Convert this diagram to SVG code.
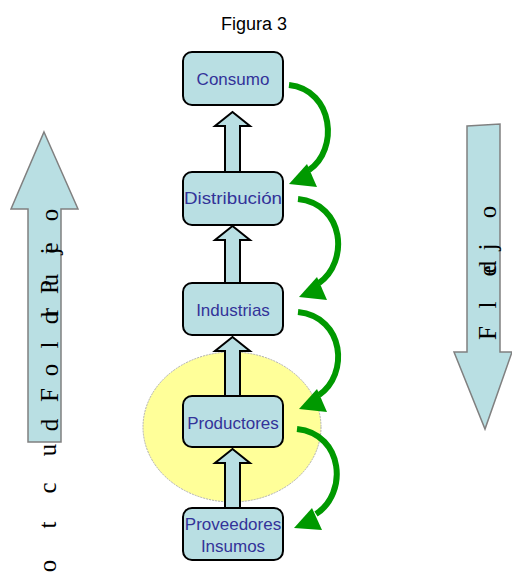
<svg xmlns="http://www.w3.org/2000/svg" width="512" height="573" viewBox="0 0 512 573">
<style>
.box{fill:#b9dfe3;stroke:#000;stroke-width:2}
.lbl{font-family:"Liberation Sans",Arial,sans-serif;font-size:17px;fill:#333399;text-anchor:middle}
.up{fill:#b9dfe3;stroke:#000;stroke-width:2;stroke-linejoin:miter}
.big{fill:#b9dfe3;stroke:#808080;stroke-width:1.5}
.g{fill:none;stroke:#009900;stroke-width:6}
.gh{fill:#009900}
.gl text{font-family:"Liberation Serif","Times New Roman",serif;font-size:20px;fill:#000;text-anchor:middle}
.title{font-family:"Liberation Sans",Arial,sans-serif;font-size:18px;fill:#000;text-anchor:middle}
</style>
<text class="title" x="254" y="30">Figura 3</text>
<ellipse id="highlight" cx="232" cy="427" rx="89" ry="75" fill="#ffff99" stroke="#b0b0b0" stroke-width="1" stroke-dasharray="2 1"/>
<g id="side-left">
<polygon class="big" points="44,132 78,209 61,209 61,442 28,442 28,209 11,209"/>
<g class="gl">
<text transform="translate(58,215) rotate(-90) scale(1.25)">o</text>
<text transform="translate(58,248) rotate(-90) scale(1.25)">e</text>
<text transform="translate(58,251) rotate(-90) scale(1.25)">j</text>
<text transform="translate(58,280) rotate(-90) scale(1.25)">u</text>
<text transform="translate(58,287) rotate(-90) scale(1.25)">P</text>
<text transform="translate(58,312) rotate(-90) scale(1.25)">r</text>
<text transform="translate(58,318) rotate(-90) scale(1.25)">d</text>
<text transform="translate(58,345) rotate(-90) scale(1.25)">l</text>
<text transform="translate(58,370) rotate(-90) scale(1.25)">o</text>
<text transform="translate(58,395) rotate(-90) scale(1.25)">F</text>
<text transform="translate(58,425) rotate(-90) scale(1.25)">d</text>
<text transform="translate(56,450) rotate(-90) scale(1.25)">u</text>
<text transform="translate(56,488) rotate(-90) scale(1.25)">c</text>
<text transform="translate(56,525) rotate(-90) scale(1.25)">t</text>
<text transform="translate(56,566) rotate(-90) scale(1.25)">o</text>
</g>
</g>
<g id="side-right">
<polygon class="big" points="467,126 500,124 500,352 512,352 485,429 454,352 467,352"/>
<g class="gl">
<text transform="translate(496,212) rotate(-90) scale(1.25)">o</text>
<text transform="translate(496,247) rotate(-90) scale(1.25)">j</text>
<text transform="translate(496,267) rotate(-90) scale(1.25)">d</text>
<text transform="translate(496,271) rotate(-90) scale(1.25)">e</text>
<text transform="translate(496,305) rotate(-90) scale(1.25)">l</text>
<text transform="translate(496,333) rotate(-90) scale(1.25)">F</text>
</g>
</g>
<g id="connectors">
<polygon class="up" points="232.5,112 250,126 240,126 240,172 225,172 225,126 215,126"/>
<polygon class="up" points="232.5,226 250,240 240,240 240,283 225,283 225,240 215,240"/>
<polygon class="up" points="232.5,337 250,351 240,351 240,396 225,396 225,351 215,351"/>
<polygon class="up" points="232.5,449 250,463 240,463 240,508 225,508 225,463 215,463"/>
<path class="g" d="M289,85 C334,90 339,150 309,170"/>
<polygon class="gh" points="289,184 307,164 317,187"/>
<path class="g" d="M298,199 C345,204 349,262 319,283"/>
<polygon class="gh" points="299,297 317,277 327,300"/>
<path class="g" d="M298,312 C345,317 349,375 319,395"/>
<polygon class="gh" points="299,409 317,389 327,412"/>
<path class="g" d="M297,429 C344,434 348,494 316,514"/>
<polygon class="gh" points="294,528 312,508 322,530"/>
</g>
<g id="consumo"><rect class="box" x="183" y="52" width="100" height="53" rx="9"/><text class="lbl" x="233" y="85">Consumo</text></g>
<g id="distribucion"><rect class="box" x="183" y="172" width="100" height="53" rx="9"/><text class="lbl" x="233" y="204" textLength="98" lengthAdjust="spacingAndGlyphs">Distribución</text></g>
<g id="industrias"><rect class="box" x="183" y="283" width="100" height="52" rx="9"/><text class="lbl" x="233" y="316">Industrias</text></g>
<g id="productores"><rect class="box" x="183" y="396" width="100" height="51" rx="9"/><text class="lbl" x="233" y="429">Productores</text></g>
<g id="proveedores"><rect class="box" x="183" y="508" width="100" height="52" rx="9"/><text class="lbl" x="233" y="530">Proveedores</text><text class="lbl" x="233" y="552">Insumos</text></g>
</svg>
